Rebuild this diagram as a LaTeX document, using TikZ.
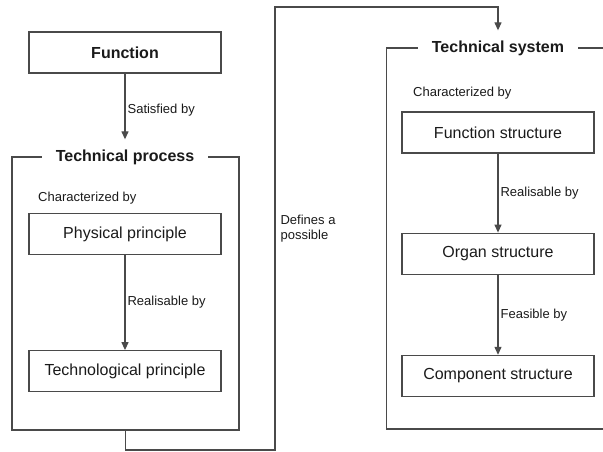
\documentclass[tikz,border=0pt]{standalone}
\usepackage{fontspec}
\setmainfont{Liberation Sans}
\usetikzlibrary{arrows.meta, positioning}
\definecolor{linegray}{HTML}{4A4A4A}
\definecolor{textdark}{HTML}{1A1A1A}
\tikzset{
  blk/.style={rectangle, draw=linegray, line width=1.2pt,
              minimum width=192pt, minimum height=41pt,
              font=\fontsize{16}{19}\selectfont, text=textdark},
  headblk/.style={blk, font=\fontsize{16}{19}\selectfont\bfseries},
  frame/.style={rectangle, draw=linegray, line width=1.2pt},
  ttl/.style={fill=white, font=\fontsize{16}{19}\selectfont\bfseries,
              inner xsep=14pt, inner ysep=3pt, text=textdark},
  lbl/.style={font=\fontsize{13}{14.5}\selectfont, text=textdark,
              align=left, inner sep=2pt},
  arr/.style={-{Triangle[width=7pt,length=8pt]}, draw=linegray, line width=1.2pt},
}

\begin{document}
\begin{tikzpicture}[x=1pt, y=-1pt, node distance=95pt]
  \useasboundingbox (0,0) rectangle (603,452);
  \clip (0,0) rectangle (603,452);

  % left column
  \node[headblk] (func) at (125,52.5) {Function};
  \node[frame, minimum width=227pt, minimum height=273pt] (proc) at (125.5,293.5) {};
  \node[ttl] (proctitle) at (125,157) {Technical process};
  \node[blk] (phys) at (125,234) {Physical principle};
  \node[blk, below=of phys] (techp) {Technological principle};
  \node[lbl, anchor=west] (charl) at (36,198) {Characterized by};

  % right column
  \node[frame, minimum width=226pt, minimum height=381pt] (sys) at (499.5,238.5) {};
  \node[ttl] (systitle) at (498,48) {Technical system};
  \node[blk] (funcstr) at (498,132.5) {Function structure};
  \node[blk, below=79pt of funcstr] (organ) {Organ structure};
  \node[blk, below=80pt of organ] (comp) {Component structure};
  \node[lbl, anchor=west] (charr) at (411,93) {Characterized by};

  \draw[arr, shorten >=7pt] (func) -- node[lbl, right] {Satisfied by} (proctitle);
  \draw[arr] (phys) -- node[lbl, right] {Realisable by} (techp);
  \draw[arr] (funcstr) -- node[lbl, right] {Realisable by} (organ);
  \draw[arr] (organ) -- node[lbl, right] {Feasible by} (comp);

  % process defines the system
  \coordinate (lowturn) at (275,450);
  \coordinate (topturn) at (275,7);
  \draw[arr, shorten >=7pt] (proc.south) |- (lowturn) -- node[lbl, right, xshift=3pt] {Defines a\\possible} (topturn) -| (systitle.north);
\end{tikzpicture}
\end{document}
